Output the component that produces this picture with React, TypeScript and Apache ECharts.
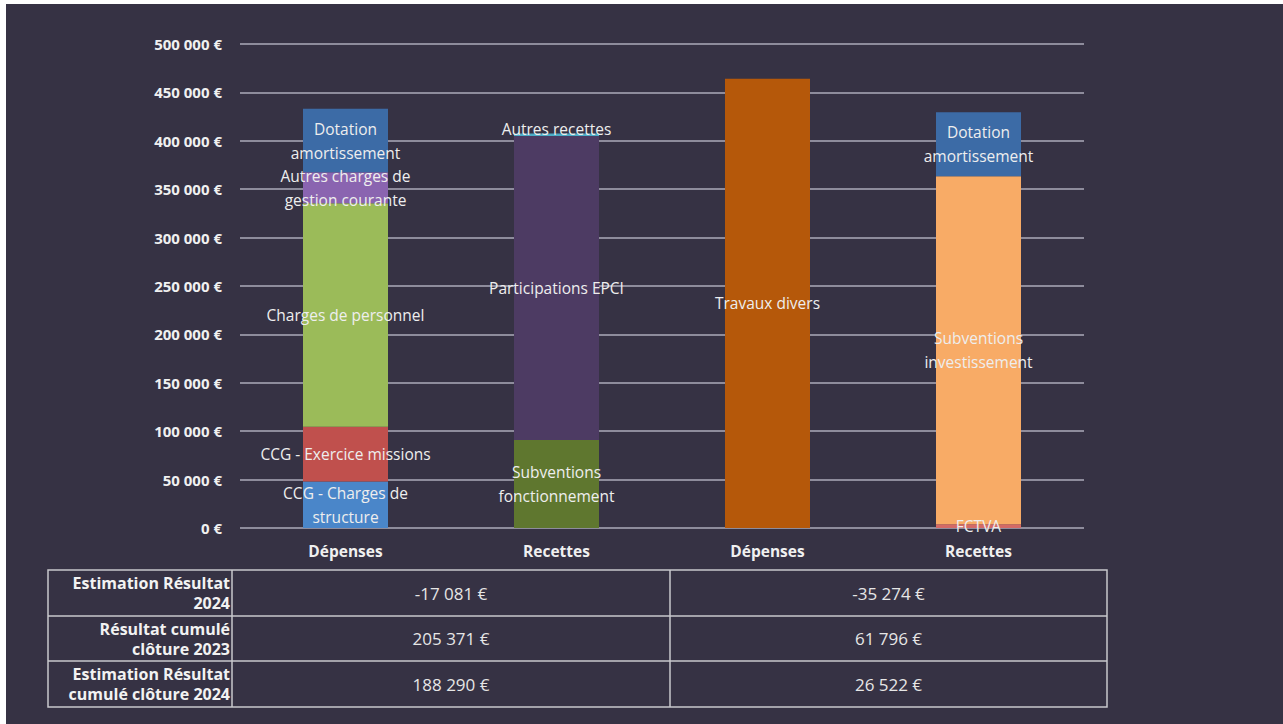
import React, { useEffect, useRef } from "react";
import * as echarts from "echarts";

const categories = ["Dépenses", "Recettes", "Dépenses", "Recettes"];

const seriesNames = [
  "CCG - Charges de structure",
  "CCG - Exercice missions",
  "Charges de personnel",
  "Autres charges de gestion courante",
  "Subventions fonctionnement",
  "Participations EPCI",
  "Autres recettes",
  "Travaux divers",
  "FCTVA",
  "Subventions investissement",
  "Dotation amortissement",
];

const seriesLabels = [
  "CCG - Charges de\nstructure",
  "CCG - Exercice missions",
  "Charges de personnel",
  "Autres charges de\ngestion courante",
  "Subventions\nfonctionnement",
  "Participations EPCI",
  "Autres recettes",
  "Travaux divers",
  "FCTVA",
  "Subventions\ninvestissement",
  "Dotation\namortissement",
];

const seriesColors = [
  "#4a86c9",
  "#c0504d",
  "#9bbb59",
  "#8a64b0",
  "#5f772f",
  "#4d3b63",
  "#4bacc6",
  "#b5580a",
  "#d46a66",
  "#f8ab66",
  "#3c6ba6",
];

// values per category [Dépenses, Recettes, Dépenses, Recettes]
const chargesStructure = [48000, null, null, null];
const exerciceMissions = [56500, null, null, null];
const chargesPersonnel = [231000, null, null, null];
const autresCharges = [32000, null, null, null];
const subventionsFonct = [null, 91000, null, null];
const participationsEPCI = [null, 314000, null, null];
const autresRecettes = [null, 2500, null, null];
const travauxDivers = [null, null, 464000, null];
const fctva = [null, null, null, 4000];
const subventionsInvest = [null, null, null, 359500];
const dotationAmortissement = [65500, null, null, 66000];

const seriesValues = [
  chargesStructure,
  exerciceMissions,
  chargesPersonnel,
  autresCharges,
  subventionsFonct,
  participationsEPCI,
  autresRecettes,
  travauxDivers,
  fctva,
  subventionsInvest,
  dotationAmortissement,
];

const tableRowLabels = [
  "Estimation Résultat\n2024",
  "Résultat cumulé\nclôture 2023",
  "Estimation Résultat\ncumulé clôture 2024",
];
const fonctionnementResults = [-17081, 205371, 188290];
const investissementResults = [-35274, 61796, 26522];

const fmt = (v: number) => {
  const s = String(Math.abs(v)).replace(/\B(?=(\d{3})+(?!\d))/g, " ");
  return (v < 0 ? "-" : "") + s + " €";
};

export default function App() {
  const ref = useRef<HTMLDivElement>(null);
  useEffect(() => {
    if (!ref.current) return;
    const chart = echarts.init(ref.current, null, { renderer: "svg" });

    const tX = [48, 232, 670, 1107];
    const tY = [570, 616, 661, 707];
    const lineColor = "#c8c8cc";
    const graphic: any[] = [
      { type: "rect", shape: { x: 0, y: 0, width: 1283, height: 4 }, style: { fill: "#ffffff" } },
      { type: "rect", shape: { x: 0, y: 0, width: 6, height: 724 }, style: { fill: "#ffffff" } },
      {
        type: "rect",
        shape: { x: tX[0], y: tY[0], width: tX[3] - tX[0], height: tY[3] - tY[0] },
        style: { fill: "none", stroke: lineColor, lineWidth: 1.5 },
      },
    ];
    [tY[1], tY[2]].forEach((y) =>
      graphic.push({
        type: "line",
        shape: { x1: tX[0], y1: y, x2: tX[3], y2: y },
        style: { stroke: lineColor, lineWidth: 1.5 },
      })
    );
    [tX[1], tX[2]].forEach((x) =>
      graphic.push({
        type: "line",
        shape: { x1: x, y1: tY[0], x2: x, y2: tY[3] },
        style: { stroke: lineColor, lineWidth: 1.5 },
      })
    );
    tableRowLabels.forEach((t, i) => {
      const cy = (tY[i] + tY[i + 1]) / 2;
      graphic.push({
        type: "text",
        x: tX[1] - 2,
        y: cy,
        style: {
          text: t,
          fill: "#f2f2f2",
          font: "bold 16px 'Open Sans'",
          lineHeight: 20,
          align: "right",
          verticalAlign: "middle",
          textAlign: "right",
          textVerticalAlign: "middle",
        },
      });
      graphic.push({
        type: "text",
        x: (tX[1] + tX[2]) / 2,
        y: cy,
        style: {
          text: fmt(fonctionnementResults[i]),
          fill: "#e6e6e6",
          font: "17px 'Open Sans'",
          align: "center",
          verticalAlign: "middle",
          textAlign: "center",
          textVerticalAlign: "middle",
        },
      });
      graphic.push({
        type: "text",
        x: (tX[2] + tX[3]) / 2,
        y: cy,
        style: {
          text: fmt(investissementResults[i]),
          fill: "#e6e6e6",
          font: "17px 'Open Sans'",
          align: "center",
          verticalAlign: "middle",
          textAlign: "center",
          textVerticalAlign: "middle",
        },
      });
    });

    const series = seriesNames.map((name, i) => ({
      name,
      type: "bar",
      stack: "total",
      barWidth: 85,
      itemStyle: { color: seriesColors[i] },
      label: {
        show: true,
        position: "inside",
        offset: name === "Autres recettes" ? [0, -6] : [0, 0],
        formatter: () => seriesLabels[i],
        color: "#eeeeee",
        fontFamily: "Open Sans",
        fontSize: 15.5,
        lineHeight: 24,
      },
      data: seriesValues[i],
    }));

    chart.setOption({
      animation: false,
      backgroundColor: "#363244",
      grid: { left: 240, right: 199, top: 44, bottom: 196 },
      xAxis: {
        type: "category",
        data: categories,
        axisLine: { show: false },
        axisTick: { show: false },
        axisLabel: {
          color: "#f0f0f0",
          fontWeight: "bold",
          fontSize: 15.5,
          fontFamily: "Open Sans",
          margin: 15,
        },
      },
      yAxis: {
        type: "value",
        min: 0,
        max: 500000,
        interval: 50000,
        axisLine: { show: false },
        axisTick: { show: false },
        splitLine: { lineStyle: { color: "#8e8c9c", width: 2 } },
        axisLabel: {
          color: "#f0f0f0",
          fontWeight: "bold",
          fontSize: 15,
          fontFamily: "Open Sans",
          margin: 18,
          formatter: (v: number) => fmt(v),
        },
      },
      graphic,
      series,
    });
    return () => chart.dispose();
  }, []);
  return (
    <div
      ref={ref}
      style={{ position: "fixed", left: 0, top: 0, width: 1283, height: 724 }}
    />
  );
}
